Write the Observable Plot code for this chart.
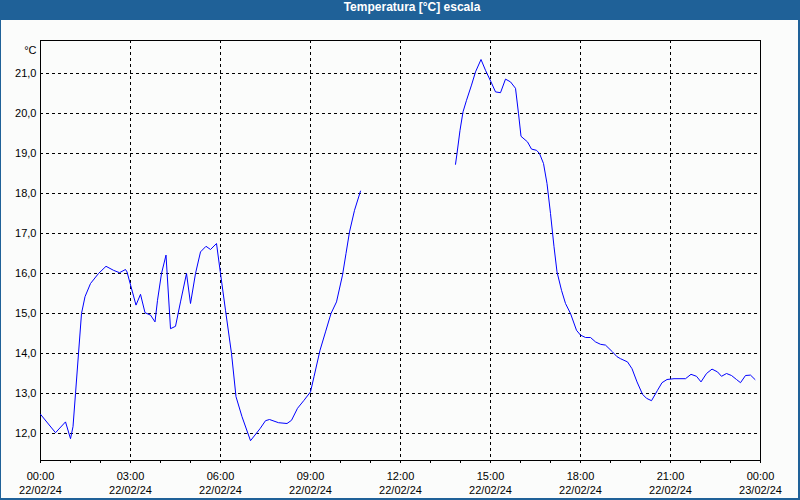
<!DOCTYPE html>
<html>
<head>
<meta charset="utf-8">
<script src="https://cdn.jsdelivr.net/npm/d3@7"></script>
<script src="https://cdn.jsdelivr.net/npm/@observablehq/plot@0.6"></script>
<style>
  html, body { margin: 0; padding: 0; background: #fbfcfb; }
  #wrap { position: relative; width: 800px; height: 500px; overflow: hidden; background: #fbfcfb; }
  #title { height: 20px; line-height: 21px; background: #1f6198; color: #fff; font: bold 12px "Liberation Sans", Arial, sans-serif; text-align: center; padding-left: 24px; box-sizing: border-box; }
  .bd { position: absolute; background: #1f6198; }
  svg { display: block; }
</style>
</head>
<body>
<div id="wrap">
  <div id="title">Temperatura [°C] escala</div>
  <div id="chart"></div>
  <div class="bd" style="left:0;top:20px;width:1px;height:480px"></div>
  <div class="bd" style="right:0;top:20px;width:2px;height:480px"></div>
  <div class="bd" style="left:0;bottom:0;width:800px;height:2px"></div>
</div>
<script>
// Sample times (HH:MM, 22/02/24) and temperatures (°C); null marks the data gap
const times = [
  "00:00","00:30","00:50","01:00","01:05","01:10","01:16","01:22","01:29","01:40",
  "01:56","02:11","02:26","02:38","02:50","02:53","03:11","03:20","03:29","03:40",
  "03:49","03:54","04:02","04:11","04:20","04:30","04:40","04:52","05:00","05:10",
  "05:20","05:31","05:40","05:52","06:00","06:10","06:22","06:31","06:43","07:00",
  "07:19","07:30","07:38","07:56","08:13","08:22","08:34","08:47","09:00","09:07",
  "09:19","09:30","09:41","09:52","10:04","10:11","10:18","10:28","10:40",
  "12:00",
  "13:50","13:53","13:59","14:05","14:12","14:22","14:30","14:41","14:50","15:01",
  "15:10","15:20","15:30","15:40","15:50","15:56","16:01","16:14","16:22","16:32",
  "16:38","16:46","16:53","17:00","17:07","17:13","17:22","17:30","17:40","17:52",
  "18:00","18:10","18:20","18:30","18:40","18:50","19:04","19:13","19:20","19:34",
  "19:43","19:53","20:04","20:12","20:22","20:34","20:43","20:53","21:07","21:30",
  "21:41","21:52","22:01","22:12","22:23","22:34","22:42","22:52","23:02","23:12",
  "23:20","23:30","23:40","23:49"
];
const temps = [
  12.48,12.02,12.29,11.87,12.17,13.0,14.0,15.0,15.42,15.75,
  16.0,16.18,16.08,16.02,16.1,16.04,15.21,15.48,15.02,14.96,
  14.79,15.33,16.0,16.46,14.62,14.68,15.29,16.0,15.25,16.0,
  16.54,16.68,16.6,16.75,16.0,15.08,14.0,12.92,12.42,11.82,
  12.12,12.32,12.35,12.27,12.25,12.33,12.63,12.83,13.04,13.42,
  14.08,14.54,15.0,15.29,15.96,16.5,17.04,17.58,18.06,
  null,
  18.73,19.0,19.58,20.04,20.33,20.71,21.04,21.35,21.08,20.79,
  20.54,20.52,20.86,20.79,20.63,20.0,19.43,19.29,19.11,19.08,
  19.0,18.75,18.25,17.5,16.67,16.04,15.58,15.25,15.0,14.58,
  14.46,14.4,14.4,14.29,14.23,14.21,14.04,13.92,13.87,13.79,
  13.62,13.29,12.98,12.88,12.82,13.08,13.27,13.35,13.37,13.37,
  13.48,13.43,13.29,13.5,13.61,13.54,13.43,13.5,13.45,13.35,
  13.27,13.45,13.46,13.35
];
// Axis tick labels
const xTickHours = [0, 3, 6, 9, 12, 15, 18, 21, 24];
const xTickTimes = ["00:00","03:00","06:00","09:00","12:00","15:00","18:00","21:00","00:00"];
const xTickDates = ["22/02/24","22/02/24","22/02/24","22/02/24","22/02/24","22/02/24","22/02/24","22/02/24","23/02/24"];
const yTicks = [12, 13, 14, 15, 16, 17, 18, 19, 20, 21];
const yUnit = "°C";

const toHours = s => { const [h, m] = s.split(":").map(Number); return h + m / 60; };
const data = times.map((s, i) => ({h: toHours(s), t: temps[i] == null ? NaN : temps[i]}));
const labels = xTickHours.map((h, i) => ({h, text: xTickTimes[i] + "\n" + xTickDates[i]}));

const chart = Plot.plot({
  width: 800,
  height: 480,
  marginTop: 20,
  marginBottom: 40,
  marginLeft: 40,
  marginRight: 40,
  style: {background: "transparent", fontFamily: "'Liberation Sans', Arial, sans-serif", fontSize: "11px", color: "#000"},
  x: {domain: [0, 24]},
  y: {domain: [11.325, 21.825]},
  marks: [
    Plot.gridY(yTicks, {stroke: "#000", strokeOpacity: 1, strokeDasharray: "3,3"}),
    Plot.gridX(xTickHours.slice(1, -1), {stroke: "#000", strokeOpacity: 1, strokeDasharray: "3,3"}),
    Plot.axisY(yTicks, {tickSize: 0, tickPadding: 4, tickFormat: d => d.toFixed(1).replace(".", ","), fontSize: 11, label: null}),
    Plot.axisX(d3.range(0, 25), {tickSize: 3, tickFormat: () => "", label: null, stroke: "#000"}),
    Plot.text(labels, {x: "h", frameAnchor: "bottom", dy: 9, text: "text", lineAnchor: "top", lineHeight: 1.3, fontSize: 11, fill: "#000"}),
    Plot.text([yUnit], {frameAnchor: "top-left", dx: -4, dy: 6, textAnchor: "end", text: d => d, fontSize: 11, fill: "#000"}),
    Plot.frame({stroke: "#000"}),
    Plot.line(data, {x: "h", y: "t", stroke: "#0000ff", strokeWidth: 1})
  ]
});
document.getElementById("chart").appendChild(chart);
</script>
</body>
</html>
